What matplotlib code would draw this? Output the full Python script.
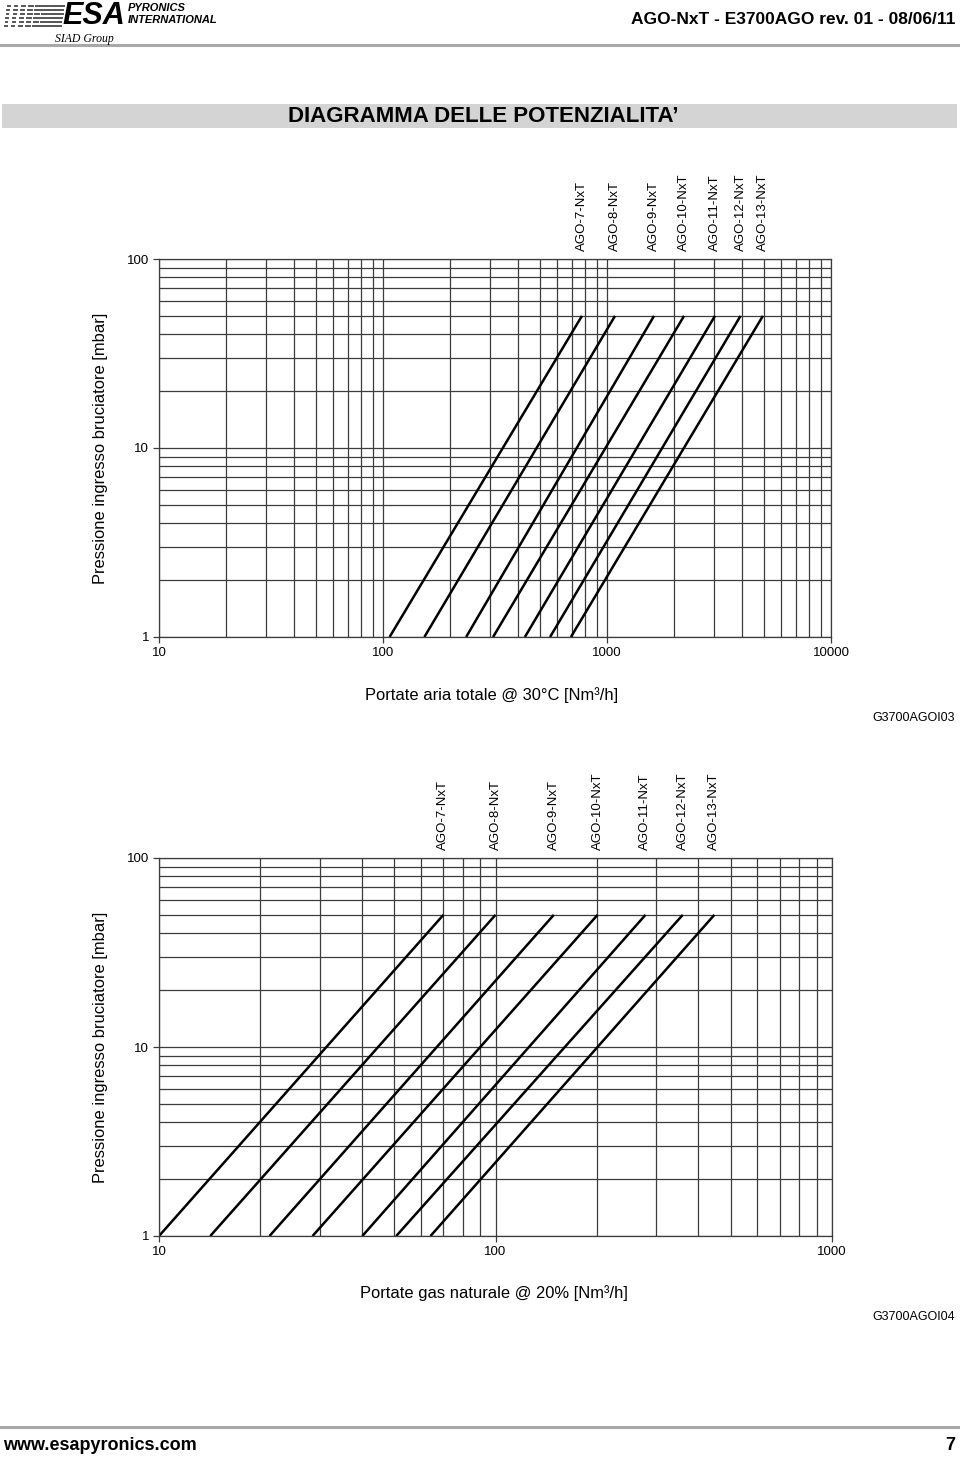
import matplotlib
matplotlib.use('Agg')
import matplotlib.pyplot as plt
from matplotlib.patches import Rectangle
from matplotlib.lines import Line2D
from matplotlib.ticker import LogLocator, NullFormatter, FixedLocator, FixedFormatter

plt.rcParams['font.family'] = ['Liberation Sans', 'DejaVu Sans']

W, H = 960, 1459

models = ['AGO-7-NxT', 'AGO-8-NxT', 'AGO-9-NxT', 'AGO-10-NxT',
          'AGO-11-NxT', 'AGO-12-NxT', 'AGO-13-NxT']

# pressione estremi delle rette [mbar]
line_pressure = [1, 50]

# portata aria totale [Nm3/h] a 1 mbar e a 50 mbar
air_flow_lo = [107, 153, 235, 310, 430, 557, 690]
air_flow_hi = [773, 1086, 1622, 2208, 3034, 3945, 4966]

# portata gas naturale [Nm3/h] a 1 mbar e a 50 mbar
gas_flow_lo = [10, 14.2, 21.3, 28.6, 40.2, 50.7, 64.1]
gas_flow_hi = [70, 100, 149, 201, 279, 360, 447]

air_ticks = [10, 100, 1000, 10000]
gas_ticks = [10, 100, 1000]
pressure_ticks = [1, 10, 100]


def fx(x):
    return x / W


def fy(y):
    return 1 - y / H


def draw_chart(fig, box, flow_lo, flow_hi, xticks, xlabel, xlabel_pos, code, code_y):
    left, top, right, bottom = box
    ax = fig.add_axes([fx(left), fy(bottom), fx(right - left), (bottom - top) / H])
    ax.set_xscale('log')
    ax.set_yscale('log')
    ax.set_xlim(xticks[0], xticks[-1])
    ax.set_ylim(pressure_ticks[0], pressure_ticks[-1])

    ax.xaxis.set_major_locator(FixedLocator(xticks))
    ax.xaxis.set_major_formatter(FixedFormatter([str(t) for t in xticks]))
    ax.yaxis.set_major_locator(FixedLocator(pressure_ticks))
    ax.yaxis.set_major_formatter(FixedFormatter([str(t) for t in pressure_ticks]))
    for axis in (ax.xaxis, ax.yaxis):
        axis.set_minor_locator(LogLocator(base=10, subs=range(2, 10)))
        axis.set_minor_formatter(NullFormatter())

    ax.grid(which='both', color='#3c3c3c', lw=0.9)
    ax.tick_params(which='major', length=4, width=0.9, color='#3c3c3c',
                   labelsize=9.5, pad=3)
    ax.tick_params(which='minor', length=0)
    for s in ax.spines.values():
        s.set_color('#3c3c3c')
        s.set_linewidth(0.9)

    for name, lo, hi in zip(models, flow_lo, flow_hi):
        ax.plot([lo, hi], line_pressure, color='black', lw=1.8, solid_capstyle='butt')
        ax.text(hi, 1.022, name, transform=ax.get_xaxis_transform(),
                rotation=90, ha='center', va='bottom', fontsize=9.5)

    fig.text(fx(101), fy((top + bottom) / 2), 'Pressione ingresso bruciatore [mbar]',
             rotation=90, ha='center', va='center', fontsize=11.9)
    fig.text(fx(xlabel_pos[0]), fy(xlabel_pos[1]), xlabel,
             ha='center', va='center', fontsize=11.9)
    fig.text(fx(955), fy(code_y), code, ha='right', va='center', fontsize=9)
    return ax


fig = plt.figure(figsize=(W / 100, H / 100), dpi=100)

# intestazione
for i in range(6):
    for j in range(8):
        xs = 5 + j * 7
        L = 1.5 + j * 0.75
        fig.add_artist(Line2D([fx(xs + 3 - i * 0.6), fx(xs + 3 + L - i * 0.6)],
                              [fy(6 + i * 4), fy(6 + i * 4)], color='#555', lw=1.4))
fig.text(fx(62), fy(16), 'ESA', fontsize=22, fontweight='bold', style='italic',
         va='center', ha='left')
fig.text(fx(128), fy(8), 'PYRONICS', fontsize=8, fontweight='bold', style='italic',
         va='center', ha='left')
fig.text(fx(128), fy(20), 'INTERNATIONAL', fontsize=8, fontweight='bold', style='italic',
         va='center', ha='left')
fig.text(fx(55), fy(39), 'SIAD Group', fontsize=8.5, style='italic',
         family=['Liberation Serif', 'DejaVu Serif'], va='center', ha='left')
fig.text(fx(955), fy(20), 'AGO-NxT - E3700AGO rev. 01 - 08/06/11', fontsize=12.5,
         fontweight='bold', ha='right', va='center')
fig.add_artist(Line2D([fx(0), fx(960)], [fy(45), fy(45)], color='#a8a8a8', lw=2.2))

# titolo
fig.add_artist(Rectangle((fx(2), fy(128)), fx(955), 24 / H, facecolor='#d4d4d4',
                         edgecolor='none'))
fig.text(fx(483), fy(116), 'DIAGRAMMA DELLE POTENZIALITA\u2019', fontsize=16,
         fontweight='bold', ha='center', va='center')

draw_chart(fig, (159, 259, 831, 637), air_flow_lo, air_flow_hi, air_ticks,
           'Portate aria totale @ 30°C [Nm³/h]', (492, 695), 'G3700AGOI03', 718)
draw_chart(fig, (159, 858, 832, 1236), gas_flow_lo, gas_flow_hi, gas_ticks,
           'Portate gas naturale @ 20% [Nm³/h]', (494, 1293), 'G3700AGOI04', 1317)

# piè di pagina
fig.add_artist(Line2D([fx(0), fx(960)], [fy(1427), fy(1427)], color='#a8a8a8', lw=2.2))
fig.text(fx(3), fy(1446), 'www.esapyronics.com', fontsize=13, fontweight='bold',
         ha='left', va='center')
fig.text(fx(955), fy(1446), '7', fontsize=13, fontweight='bold',
         ha='right', va='center')

fig.savefig('out.png', dpi=100)
